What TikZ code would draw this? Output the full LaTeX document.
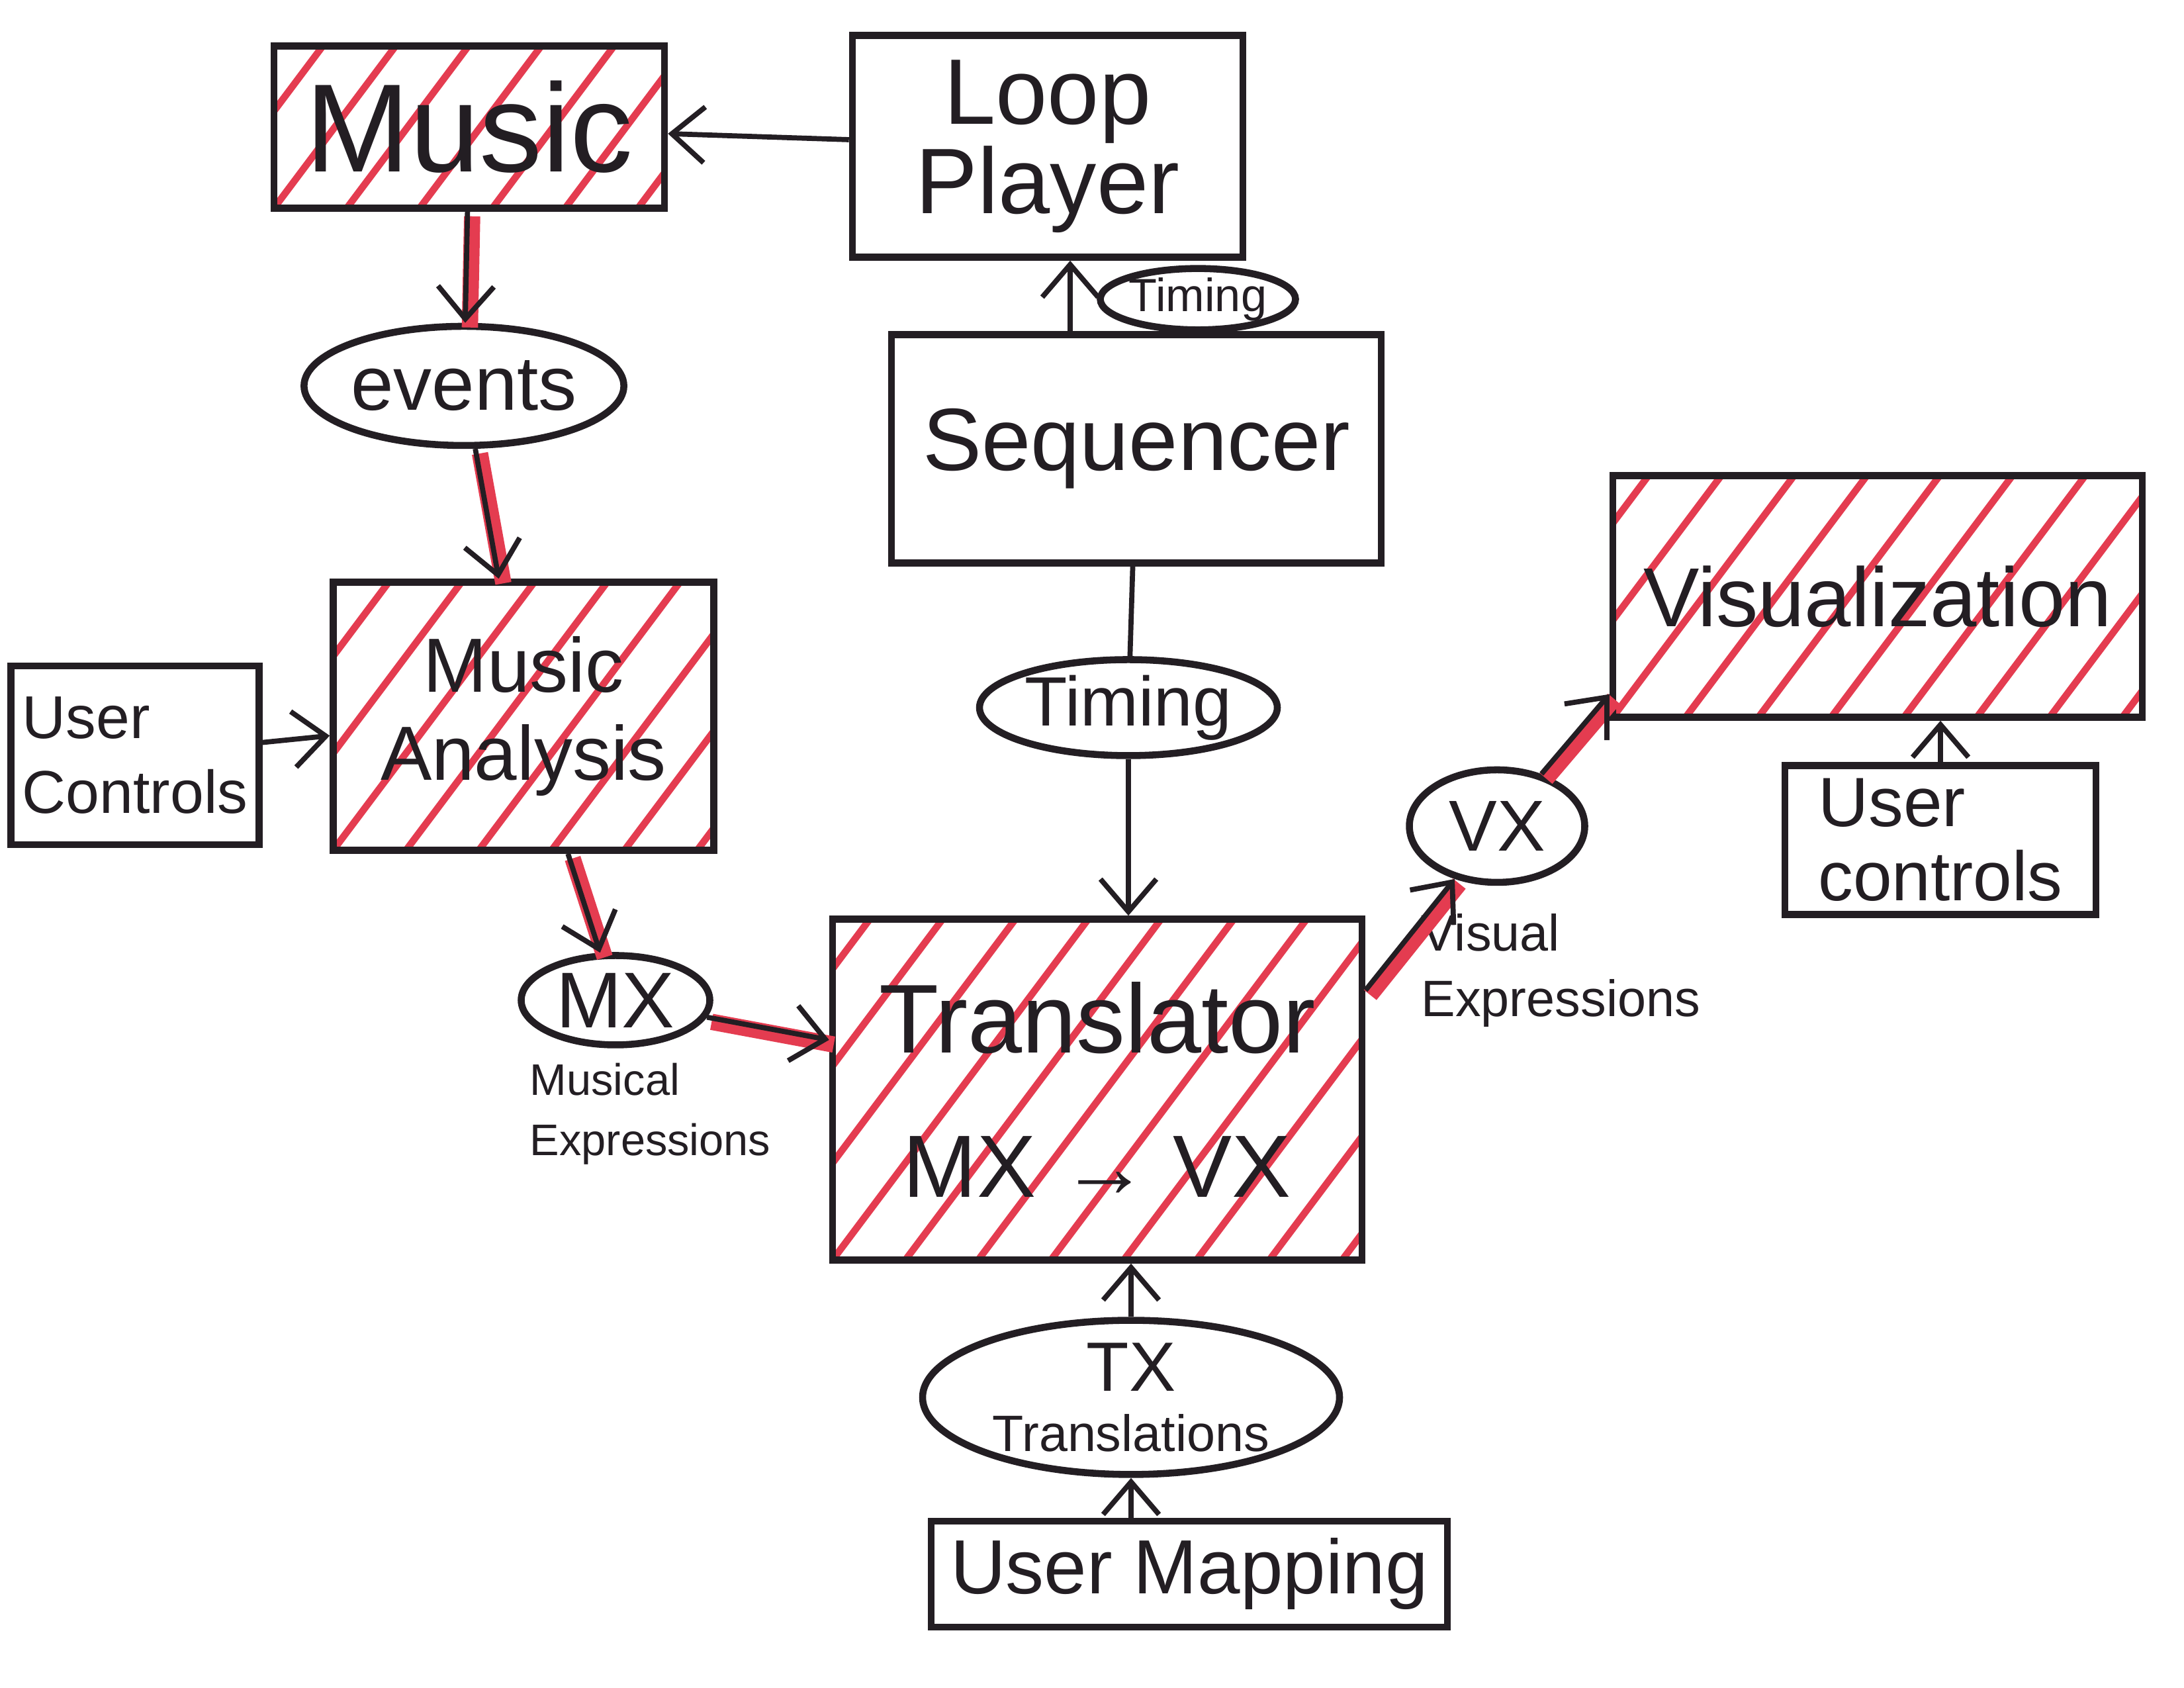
\documentclass[tikz,border=0pt]{standalone}
\usepackage{fontspec}
\setmainfont{Liberation Sans}
\usepackage{tikz}
\usetikzlibrary{arrows.meta}
\usetikzlibrary{shapes.geometric,positioning}
\definecolor{marker}{RGB}{228,60,80}
\definecolor{ink}{RGB}{35,30,35}
\newcommand{\handsize}[2]{\fontsize{#1}{#2}\selectfont}

\begin{document}
\begin{tikzpicture}
  \tikzset{box/.style = {shape=rectangle,draw=ink,line width=3pt,inner sep=0pt,text=ink}}
  \tikzset{blob/.style = {shape=ellipse,draw=ink,line width=3pt,inner sep=0pt,text=ink}}
  \tikzset{hatchline/.style = {draw=marker,line width=3pt}}
  \tikzset{hatched/.style = {path picture={
      \foreach \k in {-6,...,9}
        \draw[hatchline] ([xshift=\k*1.1cm]path picture bounding box.south west) -- ++(6,8);}}}
  \tikzset{%
  tipA/.tip={Straight Barb[length=14pt,width=24pt]},
}
  \tikzset{edge/.style = {draw=ink,line width=2.2pt,-tipA}}
  \tikzset{wire/.style = {draw=ink,line width=2.2pt}}
  \tikzset{redwire/.style = {draw=marker,line width=7pt,transform canvas={shift={(2pt,-2pt)}}}}
  \tikzset{note/.style = {align=left,text=ink,inner sep=0pt}}

  \fill[white] (0,0) rectangle (33,25.5);
  \useasboundingbox (0,0) rectangle (33,25.5);

	\node[box,hatched,minimum width=5.9cm,minimum height=2.45cm,font=\handsize{54}{58}] (music) at (7.09,23.58) {Music};
	\node[box,minimum width=5.9cm,minimum height=3.35cm,font=\handsize{40}{36},align=center] (loop) at (15.83,23.29) {Loop\\Player};
	\node[blob,minimum width=4.75cm,minimum height=1.8cm,font=\handsize{33}{36}] (events) at (7.01,19.67) {events};
	\node[blob,minimum width=2.95cm,minimum height=0.8cm,font=\handsize{20}{22}] (timingsmall) at (18.10,20.98) {Timing};
	\node[box,minimum width=7.4cm,minimum height=3.45cm,font=\handsize{38}{40}] (seq) at (17.17,18.72) {Sequencer};
	\node[box,hatched,minimum width=8cm,minimum height=3.65cm,font=\handsize{36}{40}] (vis) at (28.37,16.49) {Visualization};
	\node[box,hatched,minimum width=5.75cm,minimum height=4.05cm,font=\handsize{33}{38},align=center] (analysis) at (7.91,14.68) {Music\\Analysis};
	\node[box,minimum width=3.75cm,minimum height=2.7cm,font=\handsize{26}{32},align=left] (userleft) at (2.04,14.09) {User\\Controls};
	\node[blob,minimum width=4.5cm,minimum height=1.45cm,font=\handsize{30}{32}] (timing) at (17.05,14.81) {Timing};
	\node[blob,minimum width=2.65cm,minimum height=1.7cm,font=\handsize{31}{32}] (vx) at (22.62,13.02) {VX};
	\node[box,minimum width=4.7cm,minimum height=2.25cm,font=\handsize{30}{32},align=left] (userright) at (29.32,12.81) {User\\controls};
	\node[blob,minimum width=2.85cm,minimum height=1.35cm,font=\handsize{34}{36}] (mx) at (9.30,10.39) {MX};
	\node[box,hatched,minimum width=8cm,minimum height=5.15cm,font=\handsize{42}{62},align=center] (trans) at (16.58,9.04) {Translator\\{\handsize{38}{62}MX → VX}};
	\node[blob,minimum width=6.3cm,minimum height=2.2cm,font=\handsize{30}{26},align=center] (tx) at (17.09,4.39) {TX\\{\handsize{22}{26}Translations}};
	\node[box,minimum width=7.8cm,minimum height=1.6cm,font=\handsize{33}{36}] (map) at (17.97,1.72) {User Mapping};

	\node[note,font=\handsize{19}{26},anchor=north west] (mxnote) at (8.0,9.45) {Musical\\Expressions};
	\node[note,font=\handsize{22}{28},anchor=north west] (vxnote) at (21.47,11.7) {Visual\\Expressions};

    % main flow, marked in red
    \foreach \from/\to in {music/events, events/analysis, analysis/mx, mx/trans}
    \draw[redwire] (\from) -- (\to);
    \draw[redwire] ([yshift=1.5cm]trans.east) -- (vx);
    \draw[redwire] (vx) -- ([yshift=0.4cm]vis.south west);

    \foreach \from/\to in {music/events, events/analysis, analysis/mx, mx/trans, loop/music, userleft/analysis}
    \draw[edge] (\from) -- (\to);
    \draw[edge] ([yshift=1.5cm]trans.east) -- (vx);
    \draw[edge] (vx) -- ([yshift=0.4cm]vis.south west);

    % timing and user input
    \draw[edge] ([xshift=-1cm]seq.north) -- ([xshift=-1cm]seq.north |- loop.south);
    \draw[wire] (seq) -- (timing);
    \draw[edge] (timing) -- (timing |- trans.north);
    \draw[edge] (tx) -- (tx |- trans.south);
    \draw[edge] (map.north -| tx) -- (tx);
    \draw[edge] (userright) -- (userright |- vis.south);

\end{tikzpicture}
\end{document}
